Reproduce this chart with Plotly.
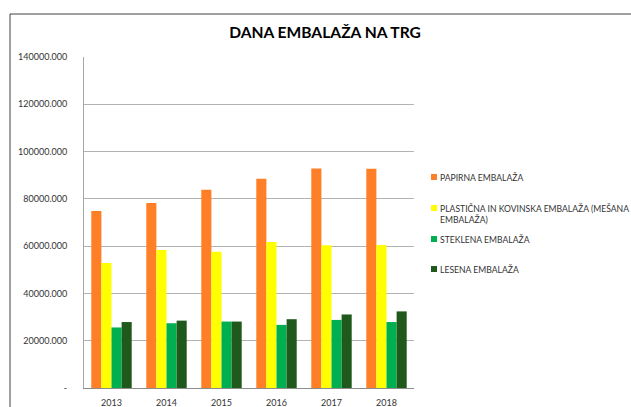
import plotly.graph_objects as go

years = ["2013", "2014", "2015", "2016", "2017", "2018"]
series_names = [
    "PAPIRNA EMBALAŽA",
    "PLASTIČNA IN KOVINSKA EMBALAŽA (MEŠANA<br>EMBALAŽA)",
    "STEKLENA EMBALAŽA",
    "LESENA EMBALAŽA",
]
papirna = [74900, 78300, 83800, 88500, 92800, 92700]
plasticna = [52900, 58400, 57600, 61700, 60400, 60500]
steklena = [25600, 27400, 28100, 26700, 28800, 27900]
lesena = [27900, 28500, 28100, 29100, 31100, 32400]
y_ticks = [0, 20000, 40000, 60000, 80000, 100000, 120000, 140000]
y_ticktext = ["-", "20000.000", "40000.000", "60000.000", "80000.000",
              "100000.000", "120000.000", "140000.000"]
colors = ["#FF7F27", "#FFFF00", "#00B050", "#1F5A1C"]

FONT = "Lato, 'Open Sans', sans-serif"
TXT = "#333333"

fig = go.Figure()
for name, vals, c in zip(series_names, [papirna, plasticna, steklena, lesena], colors):
    fig.add_trace(go.Bar(x=years, y=vals, name=name, marker_color=c,
                         marker_line_width=0, showlegend=False))

# legend (drawn as text + squares at right)
W, H = 330.0, 331.0
def px_x(p):
    return (p - 84) / W
def px_y(p):
    return (388 - p) / H

text_centers = [177, 214, 239, 269]
square_centers = [177, 208, 239, 269]
annotations = []
shapes = []
for name, c, tc, sc in zip(series_names, colors, text_centers, square_centers):
    annotations.append(dict(x=px_x(438), y=px_y(tc), xref="paper", yref="paper",
                            text=name, showarrow=False, xanchor="left", yanchor="middle",
                            align="left", font=dict(family=FONT, size=8.6, color=TXT)))
    shapes.append(dict(type="rect", xref="paper", yref="paper",
                       x0=px_x(431), x1=px_x(437), y0=px_y(sc + 3), y1=px_y(sc - 3),
                       fillcolor=c, line=dict(width=0)))

# chart frame (left and top border)
shapes.append(dict(type="line", xref="paper", yref="paper",
                   x0=px_x(10), x1=px_x(10), y0=px_y(420), y1=px_y(14),
                   line=dict(color="#404040", width=1)))
shapes.append(dict(type="line", xref="paper", yref="paper",
                   x0=px_x(10), x1=px_x(660), y0=px_y(14), y1=px_y(14),
                   line=dict(color="#404040", width=1)))

fig.update_layout(
    width=631, height=407,
    margin=dict(l=84, r=217, t=57, b=19),
    paper_bgcolor="white", plot_bgcolor="white",
    barmode="group", bargap=0.265, bargroupgap=0,
    title=dict(text="<b>DANA EMBALAŽA NA TRG</b>", x=325 / 631, xanchor="center",
               y=1 - 33 / 407, yanchor="middle",
               font=dict(family=FONT, size=15.6, color="#000000")),
    font=dict(family=FONT, size=9, color=TXT),
    annotations=annotations,
    shapes=shapes,
    xaxis=dict(showgrid=False, showline=True, linecolor="#8c8c8c", linewidth=1,
               ticks="", automargin=False, ticklabelstandoff=6,
               tickfont=dict(family=FONT, size=9, color=TXT)),
    yaxis=dict(range=[0, 140000], tickvals=y_ticks, ticktext=y_ticktext,
               showgrid=True, gridcolor="#b3b3b3", gridwidth=1,
               showline=True, linecolor="#a6a6a6", linewidth=1,
               zeroline=False, ticks="", ticklabelstandoff=14, automargin=False,
               tickfont=dict(family=FONT, size=9, color=TXT)),
)

fig.write_html(
    "out.html",
    config={"displayModeBar": False},
    post_script="document.body.style.margin='0';document.body.style.overflow='hidden';",
)
